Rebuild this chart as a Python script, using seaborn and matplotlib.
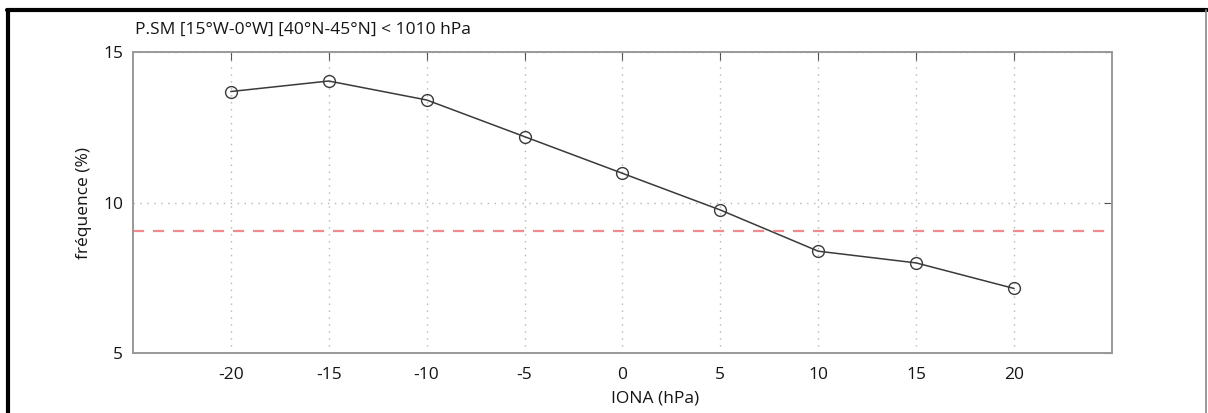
import matplotlib.pyplot as plt
import seaborn as sns
import pandas as pd
from matplotlib.lines import Line2D

iona = [-20, -15, -10, -5, 0, 5, 10, 15, 20]
freq = [13.70, 14.05, 13.42, 12.20, 10.98, 9.76, 8.39, 8.00, 7.15]
seuil = 9.05

df = pd.DataFrame({"IONA": iona, "freq": freq})

sns.set_style("white")
plt.rcParams["font.family"] = ["Open Sans", "DejaVu Sans"]
plt.rcParams["axes.unicode_minus"] = False
plt.rcParams["text.color"] = "#151515"
plt.rcParams["axes.labelcolor"] = "#151515"
plt.rcParams["xtick.labelcolor"] = "#151515"
plt.rcParams["ytick.labelcolor"] = "#151515"

fig = plt.figure(figsize=(12.08, 4.13), dpi=100)
ax = fig.add_axes([0.110, 0.145, 0.8105, 0.728])

sns.lineplot(data=df, x="IONA", y="freq", ax=ax, color="#3a3a3a", lw=1.1,
             marker="o", markersize=8.5, markerfacecolor="none",
             markeredgecolor="#3a3a3a", markeredgewidth=1.0)
ax.axhline(seuil, color="#f28a8f", lw=1.6, ls=(0, (5, 4)))

ax.set_xlim(-25, 25)
ax.set_ylim(5, 15)
ax.set_xticks(iona)
ax.set_yticks([5, 10, 15])
ax.grid(True, color="#b5b5b5", ls=(0, (1, 4)), lw=1.0)
ax.tick_params(direction="in", length=6, color="#555555", labelsize=12.5,
               top=True, right=True)
ax.tick_params(axis="x", pad=10)
ax.tick_params(axis="y", pad=7)
for s in ax.spines.values():
    s.set_color("#999999")
    s.set_linewidth(1.4)

ax.set_xlabel("IONA (hPa)", fontsize=12.5)
ax.xaxis.set_label_coords(0.533, -0.125)
ax.set_ylabel("fréquence (%)", fontsize=12.5)
ax.yaxis.set_label_coords(-0.042, 0.5)

fig.text(0.112, 1 - 30 / 413, "P.SM [15°W-0°W] [40°N-45°N] < 1010 hPa",
         fontsize=12.5, va="center", ha="left")

# cadre autour de la figure
fig.add_artist(Line2D([0.007, 0.007], [0, 0.9746], color="black", lw=3))
fig.add_artist(Line2D([0.0058, 0.9995], [0.9746, 0.9746], color="black", lw=3))
fig.add_artist(Line2D([0.9985, 0.9985], [0, 0.9746], color="#888888", lw=1.2))

plt.savefig("out.png", dpi=100)
